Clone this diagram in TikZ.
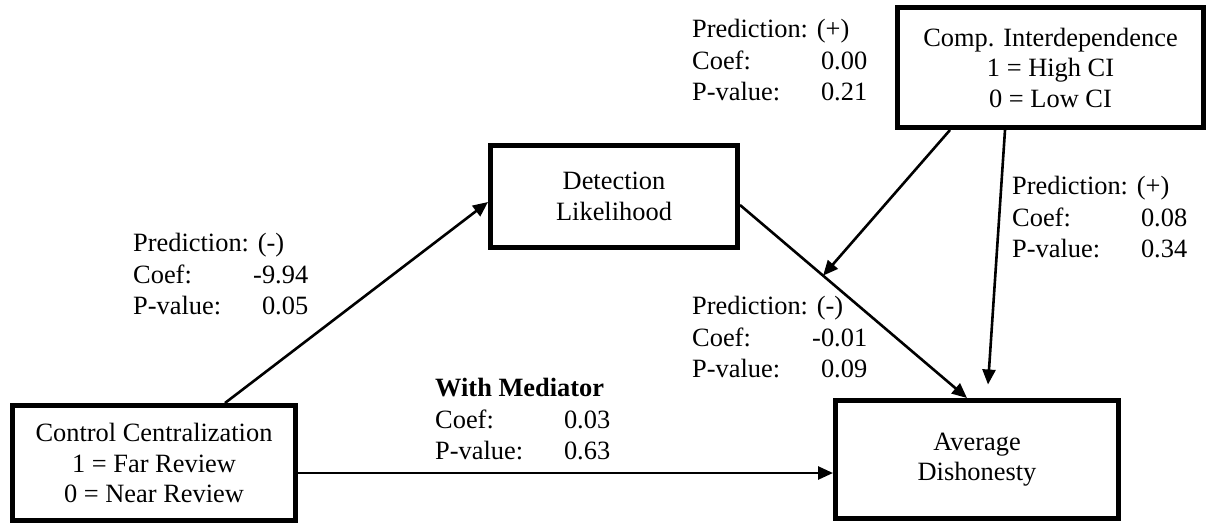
\documentclass[tikz,border=0pt]{standalone}
\usepackage{fontspec}
\setmainfont{Liberation Serif}
\usetikzlibrary{arrows.meta,calc}
% three-row block of regression statistics: prediction, coefficient, p-value
\newcommand\statblock[3]{%
  \begin{tabular*}{175pt}{@{}l@{\extracolsep{\fill}}r@{}}
    \multicolumn{2}{@{}l@{}}{#1}\\
    Coef: & #2\\
    P-value: & #3
  \end{tabular*}}
\begin{document}
\begin{tikzpicture}[x=1pt,y=-1pt,
  every node/.style={font=\fontsize{26.4}{30.5}\selectfont},
  box/.style={draw, line width=5pt, rectangle, inner sep=0pt, align=center},
  conn/.style={line width=2.6pt, -{Triangle[length=15pt,width=13pt]}},
  stats/.style={anchor=west, inner sep=0pt, font=\fontsize{26.4}{31.5}\selectfont}]
\useasboundingbox (0,0) rectangle (1206,523);

% variables
\node[box, minimum width=283pt, minimum height=115pt] (cc) at (154,463)
  {Control Centralization\\1 = Far Review\\0 = Near Review};
\node[box, minimum width=247pt, minimum height=102pt] (dl) at (614,196.5)
  {Detection\\Likelihood};
\node[box, minimum width=306pt, minimum height=120pt] (ci) at (1050.5,67.5)
  {Comp. Interdependence\\1 = High CI\\0 = Low CI};
\node[box, minimum width=283pt, minimum height=118pt] (ad) at (977,459.5)
  {Average\\Dishonesty};

% paths
\draw[conn] ([xshift=71pt]cc.north) -- ([yshift=-5.5pt]dl.west);
\draw[conn] ([yshift=-10pt]cc.east) -- ([yshift=-10pt]cc.east -| ad.west);
\coordinate (dlout) at ([yshift=-8.5pt]dl.east);
\coordinate (adin) at ([xshift=-10pt]ad.north);
\draw[conn] (dlout) -- (adin);
\coordinate (modpt) at ($(dlout)!0.366!(adin)$);
\draw[conn] ([xshift=-100.5pt]ci.south) -- (modpt);
\draw[conn] ([xshift=-45.5pt]ci.south) -- ([xshift=11pt,yshift=13.5pt]ad.north);

% statistics
\node[stats] (s1) at (133,277) {\statblock{Prediction: (-)}{-9.94}{0.05}};
\node[stats] (s2) at (692,63) {\statblock{Prediction: (+)}{0.00}{0.21}};
\node[stats] (s3) at (1012,220) {\statblock{Prediction: (+)}{0.08}{0.34}};
\node[stats] (s4) at (692,340) {\statblock{Prediction: (-)}{-0.01}{0.09}};
\node[stats] (s5) at (435,422) {\statblock{\textbf{With Mediator}}{0.03}{0.63}};
\end{tikzpicture}
\end{document}
